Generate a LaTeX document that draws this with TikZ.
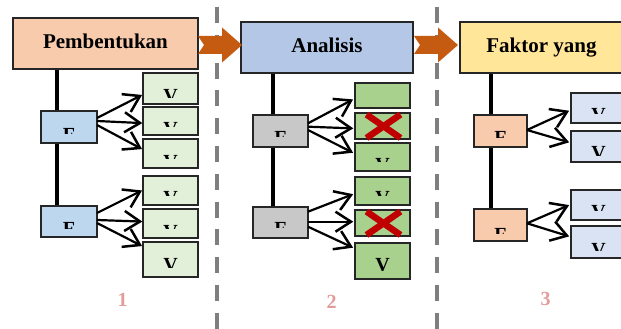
\documentclass[tikz,border=0pt]{standalone}
\usepackage{fontspec}
\setmainfont{Liberation Serif}
\usetikzlibrary{decorations.markings,backgrounds}

\definecolor{peach}{HTML}{F8CBAD}
\definecolor{skyblue}{HTML}{BDD7EE}
\definecolor{palegreen}{HTML}{E2F0D9}
\definecolor{steelblue}{HTML}{B4C7E7}
\definecolor{midgray}{HTML}{C8C8C8}
\definecolor{leafgreen}{HTML}{A9D18E}
\definecolor{butter}{HTML}{FFE699}
\definecolor{iceblue}{HTML}{DAE3F3}
\definecolor{flowcol}{HTML}{C55A11}
\definecolor{rosenum}{HTML}{E39C9C}
\definecolor{crossred}{HTML}{C00000}
\definecolor{divcol}{HTML}{7F7F7F}

\tikzset{
  box/.style={draw=black!85, line width=1.1pt, inner sep=0pt, outer sep=0pt},
  hdr/.style={box, font=\fontsize{21}{24}\selectfont\bfseries,
    text height=14pt, text depth=4pt},
  letter/.style={anchor=north, inner sep=0pt, font=\fontsize{20}{20}\selectfont\bfseries},
  trunk/.style={line width=3.6pt, black},
  % open barb head drawn at the end of each link
  link/.style={line width=2.2pt, black, postaction={decorate, decoration={markings,
    mark=at position 1 with {\draw[line width=2.5pt, line join=miter]
      (-15.5pt,10pt) -- (0pt,0pt) -- (-15.5pt,-10pt);}}}},
  flow/.style={fill=flowcol},
  divider/.style={draw=divcol, line width=4pt, dash pattern=on 16pt off 11.8pt},
  xmark/.style={draw=crossred, line width=6.5pt},
  stage/.style={font=\fontsize{20}{20}\selectfont\bfseries, text=rosenum},
}

% A letter set inside box #1 whose lower part is cut away:
% #2 the letter, #3 its top below the box centre (pt), #4 visible height (pt)
\newcommand\partletter[4]{%
  \begin{scope}
    \clip (#1.north west) rectangle ([yshift={-(#3+#4)*1pt}]#1.east);
    \node[letter] (#1-l) at ([yshift={-(#3)*1pt}]#1.center) {#2};
  \end{scope}}

\begin{document}
\begin{tikzpicture}[x=1pt, y=-1pt]
\useasboundingbox (0,0) rectangle (621,329);
\clip (0,0) rectangle (621,329);

% dividers between the stages
\draw[divider] (216.5,7) -- (216.5,340);
\draw[divider] (436.5,7) -- (436.5,340);

% ---------- stage 1 ----------
\node[hdr, fill=peach, minimum width=185pt, minimum height=51pt] (h1) at (105.5,43.5) {Pembentukan};
\node[box, fill=skyblue, minimum width=56pt, minimum height=32pt] (pa) at (69,127) {};
\node[box, fill=skyblue, minimum width=56pt, minimum height=31pt] (pb) at (69,221.5) {};
\node[box, fill=palegreen, minimum width=55pt, minimum height=31pt] (pa1) at (170.5,88.5) {};
\node[box, fill=palegreen, minimum width=55pt, minimum height=28pt] (pa2) at (170.5,121) {};
\node[box, fill=palegreen, minimum width=55pt, minimum height=29pt] (pa3) at (170.5,153.5) {};
\node[box, fill=palegreen, minimum width=55pt, minimum height=29pt] (pb1) at (170.5,190.5) {};
\node[box, fill=palegreen, minimum width=55pt, minimum height=29pt] (pb2) at (170.5,223.5) {};
\node[box, fill=palegreen, minimum width=55pt, minimum height=35pt] (pb3) at (170.5,259.5) {};
\partletter{pa}{F}{1}{5}
\partletter{pb}{F}{1}{5.5}
\partletter{pa1}{V}{0.5}{8}
\partletter{pa2}{V}{1.7}{3.5}
\partletter{pa3}{V}{1.5}{3.5}
\partletter{pb1}{V}{1.2}{3.5}
\partletter{pb2}{V}{1.5}{3.5}
\partletter{pb3}{V}{-1.5}{9}
\node[stage] (n1) at (122.5,299.5) {1};

\begin{scope}[on background layer]
  \draw[trunk] ([xshift=-12pt]pa.north |- h1.south) -- ([xshift=-12pt]pb.north);
\end{scope}

\draw[link] ([yshift=9pt]pa.east) -- ([xshift=-3pt,yshift=-7.5pt]pa1.west);
\draw[link] ([yshift=6pt]pa.east) -- ([xshift=-3pt,yshift=-2pt]pa2.west);
\draw[link] ([yshift=2pt]pa.east) -- ([xshift=-3pt,yshift=5.5pt]pa3.west);
\draw[link] ([yshift=8.5pt]pb.east) -- ([xshift=-3pt,yshift=-1pt]pb1.west);
\draw[link] ([yshift=1.5pt]pb.east) -- ([xshift=-3pt,yshift=2pt]pb2.west);
\draw[link] ([yshift=-1.5pt]pb.east) -- ([xshift=-3pt,yshift=14.5pt]pb3.west);

% ---------- stage 2 ----------
\node[hdr, fill=steelblue, minimum width=172pt, minimum height=51pt] (h2) at (327,47.5) {Analisis};
\node[box, fill=midgray, minimum width=55pt, minimum height=32pt] (qa) at (280.5,131) {};
\node[box, fill=midgray, minimum width=55pt, minimum height=31pt] (qb) at (280.5,222.5) {};
\node[box, fill=leafgreen, minimum width=55pt, minimum height=25pt] (qa1) at (382.5,95.5) {};
\node[box, fill=leafgreen, minimum width=55pt, minimum height=26pt] (qa2) at (382.5,126) {};
\node[box, fill=leafgreen, minimum width=55pt, minimum height=28pt] (qa3) at (382.5,157) {};
\node[box, fill=leafgreen, minimum width=55pt, minimum height=28pt] (qb1) at (382.5,191) {};
\node[box, fill=leafgreen, minimum width=55pt, minimum height=26pt] (qb2) at (382.5,223) {};
\node[box, fill=leafgreen, minimum width=55pt, minimum height=36pt] (qb3) at (382.5,261) {};
\partletter{qa}{F}{0.7}{5}
\partletter{qb}{F}{0}{5}
\partletter{qa3}{V}{1.3}{3.4}
\partletter{qb1}{V}{0.7}{3.3}
\partletter{qb3}{V}{-2.7}{11.7}
\node[stage] (n2) at (331.7,301.5) {2};

\begin{scope}[on background layer]
  \draw[trunk] ([xshift=-7.5pt]qa.north |- h2.south) -- ([xshift=-7.5pt]qb.north);
\end{scope}

% rejected entries
\draw[xmark] ([xshift=-16pt,yshift=11.5pt]qa2.center) -- ([xshift=18pt,yshift=-12pt]qa2.center);
\draw[xmark] ([xshift=-16pt,yshift=-12pt]qa2.center) -- ([xshift=18pt,yshift=11.5pt]qa2.center);
\draw[xmark] ([xshift=-16pt,yshift=11.5pt]qb2.center) -- ([xshift=18pt,yshift=-12pt]qb2.center);
\draw[xmark] ([xshift=-16pt,yshift=-12pt]qb2.center) -- ([xshift=18pt,yshift=11.5pt]qb2.center);

\draw[link] ([yshift=7.7pt]qa.east) -- ([xshift=-4pt,yshift=-5pt]qa1.west);
\draw[link] ([yshift=4.3pt]qa.east) -- ([xshift=-4pt,yshift=-2.3pt]qa2.west);
\draw[link] ([yshift=1pt]qa.east) -- ([xshift=-4pt,yshift=5.3pt]qa3.west);
\draw[link] ([yshift=10.8pt]qb.east) -- ([xshift=-4pt,yshift=-4pt]qb1.west);
\draw[link] ([yshift=0.8pt]qb.east) -- ([xshift=-4pt,yshift=1.3pt]qb2.west);
\draw[link] ([yshift=-4.2pt]qb.east) -- ([xshift=-4pt,yshift=14.3pt]qb3.west);

% ---------- stage 3 ----------
\node[hdr, fill=butter, minimum width=163pt, minimum height=51pt] (h3) at (541.5,47.5) {Faktor yang};
\node[box, fill=peach, minimum width=53pt, minimum height=32pt] (ra) at (500.5,131) {};
\node[box, fill=peach, minimum width=53pt, minimum height=32pt] (rb) at (500.5,225) {};
\node[box, fill=iceblue, minimum width=55pt, minimum height=30pt] (ra1) at (598.5,108) {};
\node[box, fill=iceblue, minimum width=55pt, minimum height=31pt] (ra2) at (598.5,146.5) {};
\node[box, fill=iceblue, minimum width=55pt, minimum height=30pt] (rb1) at (598.5,205) {};
\node[box, fill=iceblue, minimum width=55pt, minimum height=32pt] (rb2) at (598.5,242) {};
\partletter{ra}{F}{0.7}{5.6}
\partletter{rb}{F}{3.3}{5}
\partletter{ra1}{V}{0.3}{5}
\partletter{ra2}{V}{0.2}{8.3}
\partletter{rb1}{V}{0.7}{5}
\partletter{rb2}{V}{1.3}{6.7}
\node[stage] (n3) at (545.5,299) {3};

\begin{scope}[on background layer]
  \draw[trunk] ([xshift=-9.5pt]ra.north |- h3.south) -- ([xshift=-9.5pt]rb.north);
\end{scope}

\draw[link] ([yshift=1pt]ra.east) -- ([xshift=-4pt,yshift=-3.7pt]ra1.west);
\draw[link] ([yshift=1pt]ra.east) -- ([xshift=-4pt,yshift=4.8pt]ra2.west);
\draw[link] ([yshift=1.7pt]rb.east) -- ([xshift=-4pt,yshift=-1pt]rb1.west);
\draw[link] ([yshift=1.7pt]rb.east) -- ([xshift=-4pt,yshift=6.3pt]rb2.west);

% ---------- flow arrows between the stages ----------
\fill[flow] ([yshift=-1.5pt]h1.east) ++(0,-9) -- ++(24,0) -- ++(0,-8.5)
  -- ++(20,17.5) -- ++(-20,17.5) -- ++(0,-8.5) -- ++(-24,0) -- ++(6,-9) -- cycle;
\fill[flow] ([xshift=1pt,yshift=2.5pt]h2.east) ++(0,-9) -- ++(24,0) -- ++(0,-8.5)
  -- ++(20,17.5) -- ++(-20,17.5) -- ++(0,-8.5) -- ++(-24,0) -- ++(6,-9) -- cycle;
\end{tikzpicture}
\end{document}
